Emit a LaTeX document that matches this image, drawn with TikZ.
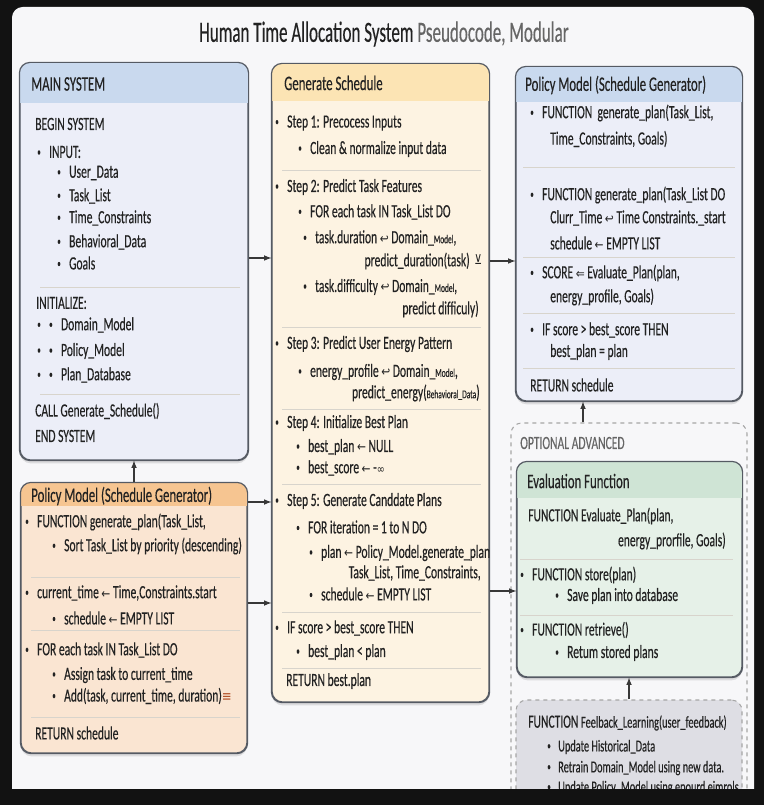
\documentclass[tikz,border=0pt]{standalone}
\usepackage{fontspec}
\setmainfont{Carlito}[FakeStretch=0.62, FakeBold=0.3]
\newfontfamily\titlefont{Carlito}[FakeStretch=0.58, FakeBold=0.3]
\newfontfamily\symfont{DejaVu Sans}[FakeStretch=0.8]
\usetikzlibrary{fit,shadows}

\definecolor{ink}{HTML}{222222}
\definecolor{subgray}{HTML}{666666}
\definecolor{cardbg}{HTML}{F7F7F9}
\definecolor{edge}{HTML}{555A63}
\definecolor{sepline}{HTML}{D8D4CC}
\definecolor{blueHead}{HTML}{C9D9EE}
\definecolor{blueBody}{HTML}{ECEEF8}
\definecolor{sandHead}{HTML}{FCE4B4}
\definecolor{sandBody}{HTML}{FDF3E2}
\definecolor{orHead}{HTML}{F6C591}
\definecolor{orBody}{HTML}{FAE5D2}
\definecolor{grHead}{HTML}{CFE4D5}
\definecolor{grBody}{HTML}{E6F1E8}
\definecolor{fbBody}{HTML}{DEDEE4}
\definecolor{rust}{HTML}{B4532A}

\newcommand{\bu}{\raisebox{0.25ex}{\fontsize{8.5}{8}\selectfont\textbullet}\hspace{0.45em}}
\newcommand{\la}{{\symfont\fontsize{10}{10}\selectfont ←}}
\newcommand{\hk}{{\symfont\fontsize{10}{10}\selectfont ↩}}
\newcommand{\lA}{{\symfont\fontsize{10}{10}\selectfont ⇐}}
\newcommand{\sm}[1]{{\fontsize{9}{10}\selectfont #1}}

% box with coloured title band
\newcommand{\panel}[8]{%
  \node[panel, fill=#8, fit={(#2,#3) (#4,#5)}] (#1) {};
  \begin{scope}
    \clip[rounded corners=8pt] (#1.north west) rectangle (#1.south east);
    \fill[#7] (#1.north west) rectangle (#1.east |- 0,#6);
  \end{scope}
  \draw[edge line] (#1.north west) rectangle (#1.south east);
}

\tikzset{
  panel/.style={draw=edge, line width=0.9pt, rounded corners=8pt, inner sep=0pt,
    drop shadow={shadow xshift=0pt, shadow yshift=-2.5pt, opacity=0.22}},
  edge line/.style={draw=edge, line width=0.9pt, rounded corners=8pt},
  txt/.style={inner sep=0pt, text=ink, font=\fontsize{14}{16}\selectfont},
  head/.style={inner sep=0pt, anchor=west, text=ink, font=\fontsize{15.5}{17}\selectfont},
  sep/.style={draw=sepline, line width=0.7pt},
  arr/.style={-latex, draw=ink!90, line width=0.9pt},
}

\begin{document}
\begin{tikzpicture}[x=0.75pt, y=-0.75pt]
\useasboundingbox (0,0) rectangle (764,805);
\fill[black!93] (0,0) rectangle (764,805);
\fill[cardbg, rounded corners=8pt] (12,7) rectangle (754,840);

\node[inner sep=0pt, text=ink, font=\titlefont\fontsize{22}{26}\selectfont] (ttl) at (384,34)
  {Human Time Allocation System {\color{subgray}Pseudocode, Modular}};

% main system
\panel{ms}{20}{63}{248}{460}{103}{blueHead}{blueBody}
\node[head] (msh) at (31,84) {MAIN SYSTEM};
\foreach \yy/\xx/\ltext [count=\i] in {
  124/35/{BEGIN SYSTEM}, 152/37/{\bu INPUT:}, 173/57/{\bu User\_Data},
  196/57/{\bu Task\_List}, 218/57/{\bu Time\_Constraints},
  242/57/{\bu Behavioral\_Data}, 263/57/{\bu Goals}, 303/36/{INITIALIZE:},
  325/37/{\bu\bu Domain\_Model}, 351/37/{\bu\bu Policy\_Model},
  375/37/{\bu\bu Plan\_Database}, 411/35/{CALL Generate\_Schedule()},
  436/35/{END SYSTEM}}
  \node[txt, anchor=west] (ms\i) at (\xx,\yy) {\ltext};
\foreach \yy in {287,394} \draw[sep] (40,\yy) -- (240,\yy);

% generate schedule
\panel{gs}{272}{64}{489}{702}{101}{sandHead}{sandBody}
\node[head] (gsh) at (284,83) {Generate Schedule};
\foreach \yy/\xx/\aa/\ltext [count=\i] in {
  123/275/west/{\bu Step 1: Precocess Inputs},
  149/298/west/{\bu Clean \& normalize input data},
  187/275/west/{\bu Step 2: Predict Task Features},
  212/298/west/{\bu FOR each task IN Task\_List DO},
  238/303/west/{\bu task.duration \hk{} Domain\_\sm{Model},},
  261/470/east/{predict\_duration(task)},
  287/303/west/{\bu task.difficulty \hk{} Domain\_\sm{Model},},
  309/479/east/{predict difficuly)},
  344/275/west/{\bu Step 3: Predict User Energy Pattern},
  372/298/west/{\bu energy\_profile \hk{} Domain\_\sm{Model},},
  393/480/east/{predict\_energy(\sm{Behavioral\_Data})},
  423/275/west/{\bu Step 4: Initialize Best Plan},
  447/296/west/{\bu best\_plan \la{} NULL},
  468/296/west/{\bu best\_score \la{} -{\symfont\fontsize{9}{9}\selectfont ∞}},
  501/275/west/{\bu Step 5: Generate Canddate Plans},
  527/296/west/{\bu FOR iteration = 1 to N DO},
  553/309/west/{\bu plan \la{} Policy\_Model.generate\_plan},
  573/481/east/{Task\_List, Time\_Constraints,},
  594/309/west/{\bu schedule \la{} EMPTY LIST},
  628/275/west/{\bu IF score > best\_score THEN},
  652/296/west/{\bu best\_plan < plan},
  681/286/west/{RETURN best.plan}}
  \node[txt, anchor=\aa] (gs\i) at (\xx,\yy) {\ltext};
\node[txt, anchor=west] (gsic) at (474,260) {{\symfont\fontsize{10}{10}\selectfont ⊻}};
\foreach \yy in {170,327,409,484,612,668} \draw[sep] (282,\yy) -- (481,\yy);

% policy model, right
\panel{pt}{516}{67}{742}{401}{102}{blueHead}{blueBody}
\node[head] (pth) at (525,85) {Policy Model (Schedule Generator)};
\foreach \yy/\xx/\ltext [count=\i] in {
  113/530/{\bu FUNCTION\ \ generate\_plan(Task\_List,},
  139/550/{Time\_Constraints, Goals)},
  195/530/{\bu FUNCTION generate\_plan(Task\_List DO},
  218/550/{Clurr\_Time \hk{} Time Constraints.\_start},
  243/550/{schedule \la{} EMPTY LIST},
  273/530/{\bu SCORE \lA{} Evaluate\_Plan(plan,},
  297/550/{energy\_profile, Goals)},
  330/530/{\bu IF score > best\_score THEN},
  352/550/{best\_plan = plan},
  385/530/{RETURN schedule}}
  \node[txt, anchor=west] (pt\i) at (\xx,\yy) {\ltext};
\foreach \yy in {167,257,313,368} \draw[sep] (523,\yy) -- (735,\yy);

% policy model, left
\panel{po}{21}{483}{247}{753}{506}{orHead}{orBody}
\node[head] (poh) at (31,496) {Policy Model (Schedule Generator)};
\foreach \yy/\xx/\ltext [count=\i] in {
  522/25/{\bu FUNCTION generate\_plan(Task\_List,},
  546/52/{\bu Sort Task\_List by priority (descending)},
  593/25/{\bu current\_time \la{} Time,Constraints.start},
  618/52/{\bu schedule \la{} EMPTY LIST},
  650/25/{\bu FOR each task IN Task\_List DO},
  675/52/{\bu Assign task to current\_time},
  696/52/{\bu Add(task, current\_time, duration){\color{rust}\symfont\fontsize{11}{11}\selectfont ≡}},
  733/35/{RETURN schedule}}
  \node[txt, anchor=west] (po\i) at (\xx,\yy) {\ltext};
\foreach \yy in {577,630,717} \draw[sep] (31,\yy) -- (240,\yy);

% optional part
\node[draw=black!35, dashed, line width=0.8pt, rounded corners=8pt, inner sep=0pt,
  fit={(511,423) (747,830)}] (opt) {};
\node[txt, anchor=west, text=subgray] (optl) at (520,443) {OPTIONAL ADVANCED};

\panel{ev}{517}{462}{742}{677}{498}{grHead}{grBody}
\node[head] (evh) at (527,481) {Evaluation Function};
\foreach \yy/\xx/\aa/\ltext [count=\i] in {
  516/528/west/{FUNCTION Evaluate\_Plan(plan,},
  541/726/east/{energy\_prorfile, Goals)},
  575/520/west/{\bu FUNCTION store(plan)},
  596/555/west/{\bu Save plan into database},
  630/520/west/{\bu FUNCTION retrieve()},
  653/555/west/{\bu Retum stored plans}}
  \node[txt, anchor=\aa] (ev\i) at (\xx,\yy) {\ltext};
\foreach \yy in {559,615} \draw[sep] (520,\yy) -- (733,\yy);

\node[draw=black!35, dashed, fill=fbBody, line width=0.8pt, rounded corners=8pt,
  inner sep=0pt, fit={(516,700) (742,830)}] (fb) {};
\node[txt, anchor=west] (fb1) at (528,723) {FUNCTION {\fontsize{12.5}{14}\selectfont Feelback\_Learning(user\_feedback)}};
\foreach \yy/\ltext [count=\i] in {
  747/{\bu Update Historical\_Data},
  768/{\bu Retrain Domain\_Model using new data.},
  788/{\bu Update Policy\_Model using epourd eimrols}}
  \node[txt, anchor=west, font=\fontsize{12.5}{14}\selectfont] (fbl\i) at (547,\yy) {\ltext};

% connectors
\draw[arr] (ms.east |- 0,258) -- (gs.west |- 0,258);
\draw[arr] (gs.east |- 0,261) -- (pt.west |- 0,261);
\draw[arr] (po.north) -- (ms.south);
\draw[arr] (po.east |- 0,502) -- (gs.west |- 0,502);
\draw[arr] (po.east |- 0,603) -- (gs.west |- 0,603);
\draw[arr] (gs.east |- 0,591) -- (ev.west |- 0,591);
\draw[arr] (opt.north -| 583,0) -- (pt.south -| 583,0);
\draw[arr] (fb.north) -- (fb.north |- ev.south);

\fill[black!93] (0,789) rectangle (764,805);
\end{tikzpicture}
\end{document}
